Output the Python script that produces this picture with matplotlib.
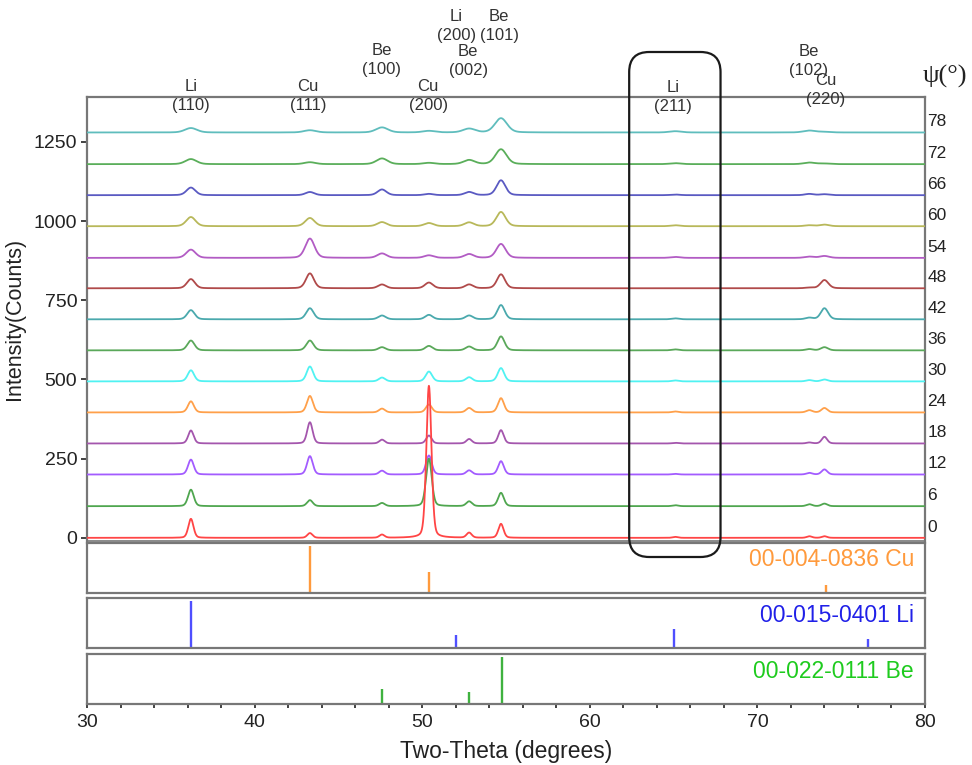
import numpy as np
import matplotlib
matplotlib.use("Agg")
import matplotlib.pyplot as plt
from matplotlib.patches import FancyBboxPatch
from matplotlib.transforms import blended_transform_factory
from matplotlib.ticker import MultipleLocator

plt.rcParams['font.family'] = ['Liberation Sans', 'DejaVu Sans']

# ---- tilt angles and stacked patterns (bottom to top) ----
psi = [0, 6, 12, 18, 24, 30, 36, 42, 48, 54, 60, 66, 72, 78]
offsets = [0, 100, 200, 298, 396, 494, 592, 690, 788, 884, 984, 1082, 1180, 1280]
curve_colors = ['#ff4545', '#4fa64f', '#a35cff', '#a456ad', '#ffa04a', '#50f2f2',
                '#5aa85a', '#4aa9ad', '#b04a4a', '#b25cc4', '#b8b85a', '#5a5ac2',
                '#5aae5a', '#5fbdbd']
fwhm = [0.36, 0.40, 0.40, 0.38, 0.42, 0.45, 0.50, 0.52, 0.56, 0.65, 0.65, 0.62, 0.78, 0.85]

# peak positions (2-theta, degrees)
pos_li110, pos_cu111, pos_be100, pos_cu200 = 36.2, 43.3, 47.6, 50.4
pos_be002, pos_be101, pos_li211, pos_be102, pos_cu220 = 52.8, 54.7, 65.1, 73.1, 74.0

# peak heights above each baseline (counts), for psi = 0 ... 78
h_li110 = [60, 52, 47, 41, 35, 35, 31, 29, 29, 26, 29, 24, 16, 14]
h_cu111 = [15, 19, 58, 67, 52, 47, 31, 35, 47, 61, 26, 10, 6, 7]
h_be100 = [10, 10, 12, 12, 12, 12, 10, 12, 12, 14, 13, 18, 18, 16]
h_cu200 = [480, 150, 60, 25, 25, 31, 14, 14, 18, 8, 10, 4, 4, 5]
h_be002 = [16, 15, 13, 14, 14, 13, 12, 12, 12, 12, 12, 10, 13, 12]
h_be101 = [44, 42, 42, 42, 45, 42, 44, 45, 44, 44, 45, 47, 47, 45]
h_li211 = [3, 3, 2, 2, 3, 3, 3, 3, 0, 3, 3, 2, 3, 4]
h_be102 = [5, 6, 5, 3, 7, 4, 4, 5, 2, 4, 3, 4, 5, 6]
h_cu220 = [5, 8, 16, 21, 14, 6, 10, 35, 26, 6, 5, 3, 2, 2]

# reference patterns (relative intensity)
cu_ref_pos = [43.3, 50.4, 74.1]
cu_ref_int = [100, 45, 17]
li_ref_pos = [36.2, 52.0, 65.0, 76.6]
li_ref_int = [100, 28, 40, 19]
be_ref_pos = [47.6, 52.8, 54.75, 72.9]
be_ref_int = [31, 25, 100, 3]

# hkl annotations: phase, hkl, 2-theta, height (px from top) of the first line
ann_phase = ['Li', 'Cu', 'Be', 'Cu', 'Li', 'Be', 'Be', 'Li', 'Be', 'Cu']
ann_hkl = ['(110)', '(111)', '(100)', '(200)', '(200)', '(002)', '(101)', '(211)', '(102)', '(220)']
ann_x = [36.2, 43.2, 47.6, 50.35, 52.05, 52.75, 54.6, 64.95, 73.05, 74.1]
ann_ypx = [88, 88, 52, 88, 18, 53, 18, 89, 53, 82]

W, H = 972, 765
fig = plt.figure(figsize=(W / 100, H / 100), dpi=100)


def frac(l, t, r, b):
    return [l / W, 1 - b / H, (r - l) / W, (b - t) / H]


ax = fig.add_axes(frac(87, 97, 925, 541))
ax_cu = fig.add_axes(frac(87, 543, 925, 593))
ax_li = fig.add_axes(frac(87, 598, 925, 648))
ax_be = fig.add_axes(frac(87, 654, 925, 704))

x = np.linspace(30, 80, 6001)


def profile(center, height, width):
    g = np.exp(-4 * np.log(2) * (x - center) ** 2 / width ** 2)
    lor = 1 / (1 + 4 * (x - center) ** 2 / width ** 2)
    return height * (0.75 * g + 0.25 * lor)


peak_sets = [(pos_li110, h_li110), (pos_cu111, h_cu111), (pos_be100, h_be100),
             (pos_cu200, h_cu200), (pos_be002, h_be002), (pos_be101, h_be101),
             (pos_li211, h_li211), (pos_be102, h_be102), (pos_cu220, h_cu220)]

for i in reversed(range(len(psi))):
    y = np.full_like(x, offsets[i], dtype=float)
    for p, hs in peak_sets:
        y += profile(p, hs[i], fwhm[i])
    ax.plot(x, y, color=curve_colors[i], lw=1.3, zorder=13 if i == 0 else 3)

ax.set_xlim(30, 80)
ax.set_ylim(-10, 1392)
ax.set_yticks([0, 250, 500, 750, 1000, 1250])
ax.set_xticks([])
ax.tick_params(axis='y', direction='out', length=4, width=1.2, labelsize=14,
               colors='#222222', pad=3)
ax.set_ylabel('Intensity(Counts)', fontsize=15.5, color='#222222', labelpad=6)

# psi labels on the right
tr_right = blended_transform_factory(ax.transAxes, ax.transData)
for p, off in zip(psi, offsets):
    ax.text(1.003, off + 34, str(p), transform=tr_right, fontsize=12.5,
            color='#222222', ha='left', va='center')
fig.text(945 / W, 1 - 76 / H, 'ψ(°)', fontsize=19, ha='center', va='center',
         family=['Liberation Serif', 'DejaVu Serif'], color='#222222')

# hkl labels above the plot
tr_top = blended_transform_factory(ax.transData, fig.transFigure)
for ph, hkl, xx, ypx in zip(ann_phase, ann_hkl, ann_x, ann_ypx):
    ax.text(xx, 1 - (ypx - 9) / H, ph + '\n' + hkl, transform=tr_top,
            fontsize=12, color='#333333', ha='center', va='top',
            linespacing=1.3, clip_on=False)

# reference stick patterns
panels = [(ax_cu, cu_ref_pos, cu_ref_int, '#ff9a3c', '00-004-0836 Cu', '#ff9a3c'),
          (ax_li, li_ref_pos, li_ref_int, '#4f4fff', '00-015-0401 Li', '#2020e8'),
          (ax_be, be_ref_pos, be_ref_int, '#3fb23f', '00-022-0111 Be', '#1ecb1e')]
for pax, pos, inten, c, lab, lc in panels:
    pax.vlines(pos, 0, inten, color=c, lw=1.7)
    pax.set_xlim(30, 80)
    pax.set_ylim(0, 106)
    pax.set_yticks([])
    pax.text(0.987, 0.66, lab, transform=pax.transAxes, fontsize=16.5,
             color=lc, ha='right', va='center')

for a in (ax_cu, ax_li):
    a.set_xticks([])

ax_be.xaxis.set_major_locator(MultipleLocator(10))
ax_be.xaxis.set_minor_locator(MultipleLocator(2))
ax_be.tick_params(axis='x', which='both', direction='out', length=3, width=1.2,
                  labelsize=14, colors='#222222', pad=4)
ax_be.set_xlabel('Two-Theta (degrees)', fontsize=16.5, color='#222222', labelpad=7)

for a in (ax, ax_cu, ax_li, ax_be):
    for s in a.spines.values():
        s.set_color('#777777')
        s.set_linewidth(1.6)
ax.spines['bottom'].set_linewidth(1.2)

# rounded highlight box around the Li (211) position
x0 = ax.transData.transform((62.35, 0))[0] / 100
x1 = ax.transData.transform((67.8, 0))[0] / 100
ytop = (H - 52) / 100
ybot = (H - 557) / 100
box = FancyBboxPatch((x0, ybot), x1 - x0, ytop - ybot,
                     boxstyle='round,pad=0,rounding_size=0.2',
                     transform=fig.dpi_scale_trans, fill=False,
                     edgecolor='#1a1a1a', lw=1.6, zorder=20)
fig.add_artist(box)

fig.savefig('out.png', dpi=100, facecolor='white')
